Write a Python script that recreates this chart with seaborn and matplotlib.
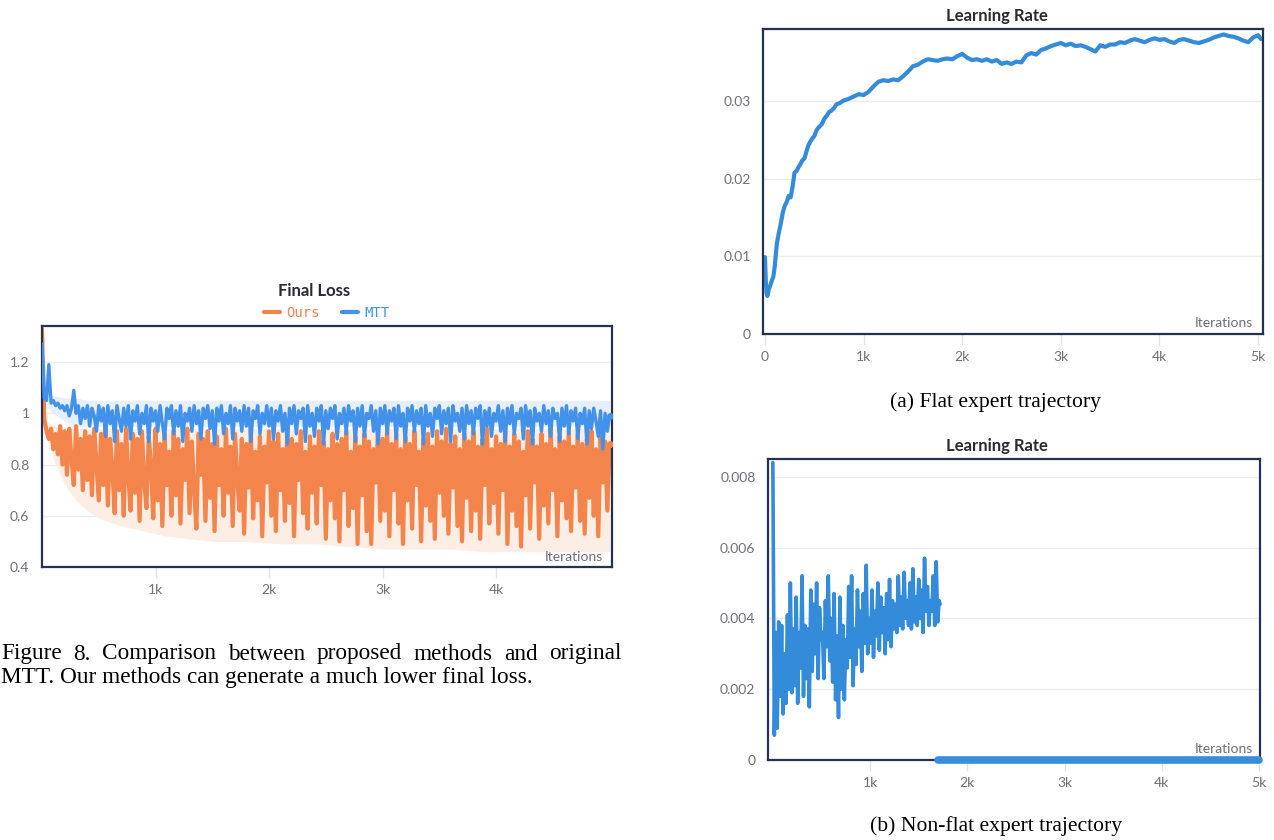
import numpy as np
import pandas as pd
import matplotlib
matplotlib.use("Agg")
import matplotlib.pyplot as plt
import seaborn as sns

# ---- Final Loss (sampled every 20 iterations) ----
loss_iter = np.arange(0, 5001, 20)
ours_loss = [
    1.33, 0.98, 0.93, 0.90, 0.94, 0.86, 0.92, 0.84, 0.95, 0.80,
    0.93, 0.76, 0.94, 0.82, 0.72, 0.95, 0.78, 0.90, 0.70, 0.93,
    0.74, 0.91, 0.68, 0.94, 0.80, 0.66, 0.92, 0.72, 0.95, 0.64,
    0.90, 0.78, 0.61, 0.93, 0.70, 0.88, 0.60, 0.94, 0.76, 0.62,
    0.92, 0.69, 0.90, 0.58, 0.93, 0.74, 0.63, 0.91, 0.80, 0.59,
    0.94, 0.66, 0.88, 0.56, 0.92, 0.72, 0.85, 0.60, 0.93, 0.68,
    0.90, 0.57, 0.86, 0.74, 0.94, 0.61, 0.89, 0.70, 0.55, 0.92,
    0.76, 0.90, 0.58, 0.93, 0.67, 0.88, 0.54, 0.91, 0.72, 0.86,
    0.60, 0.94, 0.69, 0.87, 0.56, 0.92, 0.75, 0.62, 0.90, 0.53,
    0.88, 0.71, 0.93, 0.59, 0.85, 0.66, 0.91, 0.52, 0.87, 0.73,
    0.93, 0.60, 0.89, 0.54, 0.92, 0.70, 0.86, 0.58, 0.94, 0.65,
    0.90, 0.52, 0.88, 0.74, 0.93, 0.61, 0.85, 0.55, 0.91, 0.69,
    0.87, 0.57, 0.93, 0.72, 0.89, 0.51, 0.86, 0.66, 0.92, 0.59,
    0.88, 0.50, 0.90, 0.70, 0.93, 0.56, 0.85, 0.63, 0.91, 0.49,
    0.87, 0.68, 0.92, 0.54, 0.89, 0.49, 0.86, 0.73, 0.93, 0.58,
    0.90, 0.62, 0.94, 0.52, 0.88, 0.70, 0.92, 0.57, 0.86, 0.49,
    0.91, 0.66, 0.88, 0.55, 0.93, 0.72, 0.85, 0.50, 0.90, 0.64,
    0.92, 0.58, 0.87, 0.51, 0.93, 0.69, 0.89, 0.60, 0.94, 0.53,
    0.88, 0.71, 0.91, 0.56, 0.86, 0.50, 0.92, 0.67, 0.89, 0.54,
    0.93, 0.62, 0.87, 0.51, 0.90, 0.72, 0.94, 0.57, 0.86, 0.65,
    0.91, 0.53, 0.88, 0.70, 0.93, 0.49, 0.87, 0.62, 0.92, 0.56,
    0.89, 0.48, 0.85, 0.68, 0.93, 0.55, 0.90, 0.73, 0.87, 0.51,
    0.92, 0.64, 0.88, 0.57, 0.94, 0.70, 0.86, 0.52, 0.91, 0.66,
    0.89, 0.59, 0.93, 0.54, 0.87, 0.71, 0.92, 0.58, 0.88, 0.53,
    0.90, 0.67, 0.93, 0.60, 0.86, 0.52, 0.91, 0.73, 0.89, 0.62,
    0.88,
]
mtt_loss = [
    1.27, 1.06, 1.05, 1.19, 1.04, 1.05, 1.03, 1.04, 1.02, 1.03,
    1.01, 1.03, 0.99, 1.02, 1.09, 1.00, 1.03, 0.96, 1.02, 0.98,
    1.03, 0.95, 1.02, 0.99, 0.93, 1.03, 0.97, 1.02, 0.91, 1.03,
    0.96, 1.01, 0.89, 1.03, 0.98, 0.93, 1.02, 0.95, 1.03, 0.90,
    1.01, 0.97, 1.03, 0.92, 1.00, 0.96, 1.03, 0.89, 1.02, 0.97,
    1.01, 0.93, 1.03, 0.96, 0.90, 1.02, 0.98, 1.03, 0.92, 1.01,
    0.95, 1.03, 0.89, 1.00, 0.97, 1.02, 0.93, 1.03, 0.96, 1.01,
    0.90, 1.02, 0.98, 1.03, 0.94, 1.01, 0.88, 1.02, 0.97, 1.03,
    0.92, 1.00, 0.96, 1.03, 0.90, 1.02, 0.97, 1.01, 0.93, 1.03,
    0.95, 1.02, 0.89, 1.01, 0.98, 1.03, 0.92, 1.00, 0.96, 1.03,
    0.95, 1.02, 0.90, 1.01, 0.97, 1.03, 0.93, 1.00, 0.88, 1.02,
    0.96, 1.03, 0.92, 1.01, 0.98, 1.02, 0.89, 1.03, 0.95, 1.00,
    0.91, 1.02, 0.97, 1.03, 0.88, 1.01, 0.94, 1.02, 0.98, 1.03,
    0.90, 1.00, 0.96, 1.02, 0.92, 1.03, 0.97, 1.01, 0.89, 1.02,
    0.95, 1.03, 0.91, 1.00, 0.98, 1.03, 0.93, 1.01, 0.88, 1.02,
    0.96, 1.03, 0.92, 1.01, 0.97, 1.02, 0.90, 1.03, 0.95, 1.00,
    0.89, 1.02, 0.97, 1.03, 0.93, 1.01, 0.96, 1.02, 0.88, 1.03,
    0.95, 1.00, 0.91, 1.02, 0.98, 1.03, 0.92, 1.01, 0.96, 1.02,
    0.89, 1.03, 0.97, 1.00, 0.93, 1.02, 0.90, 1.03, 0.96, 1.01,
    0.92, 1.02, 0.98, 1.03, 0.88, 1.01, 0.95, 1.02, 0.91, 1.00,
    0.97, 1.03, 0.93, 1.01, 0.89, 1.02, 0.96, 1.03, 0.92, 1.00,
    0.98, 1.02, 0.90, 1.03, 0.95, 1.01, 0.88, 1.02, 0.97, 1.00,
    0.93, 1.03, 0.96, 1.01, 0.91, 1.02, 0.98, 1.00, 0.89, 1.02,
    0.95, 1.03, 0.92, 1.01, 0.97, 1.02, 0.90, 1.00, 0.96, 1.02,
    0.88, 1.01, 0.94, 1.02, 0.97, 0.91, 1.01, 0.86, 1.00, 0.93,
    0.99,
]
# min/max shading behind the lines
band_iter = [0, 50, 100, 200, 300, 400, 500, 700, 900, 1100, 1300, 1500,
             1800, 2100, 2400, 2700, 3000, 3300, 3600, 3900, 4200, 4500, 4800, 5000]
ours_band_lo = [1.30, 0.90, 0.82, 0.72, 0.66, 0.62, 0.59, 0.56, 0.54, 0.52, 0.51, 0.50,
                0.50, 0.49, 0.49, 0.48, 0.47, 0.47, 0.47, 0.46, 0.46, 0.46, 0.46, 0.46]
ours_band_hi = [1.33, 0.97, 0.95, 0.94, 0.94, 0.94, 0.94, 0.94, 0.94, 0.94, 0.94, 0.94,
                0.94, 0.94, 0.94, 0.94, 0.94, 0.94, 0.94, 0.94, 0.94, 0.94, 0.94, 0.94]
mtt_band_lo = [1.20, 1.02, 1.00, 0.97, 0.95, 0.95, 0.95, 0.95, 0.95, 0.95, 0.95, 0.95,
               0.95, 0.95, 0.95, 0.95, 0.95, 0.95, 0.95, 0.95, 0.95, 0.95, 0.95, 0.95]
mtt_band_hi = [1.29, 1.10, 1.07, 1.06, 1.06, 1.05, 1.05, 1.05, 1.05, 1.05, 1.05, 1.05,
               1.05, 1.05, 1.05, 1.05, 1.05, 1.05, 1.05, 1.05, 1.05, 1.05, 1.05, 1.05]

# ---- Learning rate, flat expert trajectory (values x1e-3) ----
lr_flat_iter = [0, 8, 16, 25, 40, 55, 70, 85, 100, 120, 140, 160, 180, 200, 220, 240,
                260, 280, 300, 320, 340, 360, 380, 400, 420, 440, 460, 480, 500, 525,
                550, 575, 600, 625, 650, 675, 700, 725, 750, 775, 800, 850, 900, 950,
                1000, 1050, 1100, 1150, 1200, 1250, 1300, 1350, 1400, 1450, 1500, 1550,
                1600, 1650, 1700, 1750, 1800, 1850, 1900, 1950, 2000, 2050, 2100, 2150,
                2200, 2250, 2300, 2350, 2400, 2450, 2500, 2550, 2600, 2650, 2700, 2750,
                2800, 2850, 2900, 2950, 3000, 3050, 3100, 3150, 3200, 3250, 3300, 3350,
                3400, 3450, 3500, 3550, 3600, 3650, 3700, 3750, 3800, 3850, 3900, 3950,
                4000, 4050, 4100, 4150, 4200, 4250, 4300, 4350, 4400, 4450, 4500, 4550,
                4600, 4650, 4700, 4750, 4800, 4850, 4900, 4950, 5000, 5030]
lr_flat_e3 = [9.9, 7.0, 5.3, 4.9, 5.8, 6.3, 6.9, 7.4, 8.8, 11.6, 13.0, 14.2, 15.6, 16.5, 17.0, 17.8,
              17.6, 19.0, 20.8, 21.0, 21.5, 21.9, 22.4, 22.6, 23.5, 24.3, 24.8, 25.2, 25.5, 26.3,
              26.7, 27.0, 27.7, 28.1, 28.6, 28.8, 29.1, 29.6, 29.7, 29.9, 30.1, 30.3, 30.6, 30.9,
              30.8, 31.2, 31.9, 32.5, 32.7, 32.6, 32.8, 32.7, 33.2, 33.8, 34.5, 34.7,
              35.1, 35.4, 35.3, 35.2, 35.4, 35.5, 35.4, 35.8, 36.1, 35.6, 35.3, 35.4,
              35.2, 35.4, 35.1, 35.3, 34.8, 35.0, 34.8, 35.1, 35.0, 35.9, 36.2, 36.0,
              36.6, 36.8, 37.1, 37.3, 37.5, 37.2, 37.4, 37.1, 37.2, 37.0, 36.7, 36.4,
              37.2, 37.0, 37.3, 37.3, 37.6, 37.5, 37.8, 38.0, 37.8, 37.6, 37.9, 38.1,
              37.9, 38.0, 37.7, 37.5, 37.9, 38.0, 37.8, 37.6, 37.5, 37.7, 37.9, 38.2,
              38.4, 38.6, 38.4, 38.3, 38.1, 37.8, 37.6, 38.2, 38.5, 38.0]

# ---- Learning rate, non-flat expert trajectory (values x1e-3) ----
lr_nonflat_iter = list(range(0, 1711, 15)) + [1720]
lr_nonflat_e3 = [
    8.4, 0.7, 3.6, 0.9, 3.9, 1.8, 3.8, 1.3, 3.0, 1.6, 4.1, 2.0, 5.0, 1.9, 3.7, 2.1,
    4.6, 1.6, 3.6, 2.6, 5.2, 1.8, 3.8, 2.3, 3.7, 1.5, 4.8, 2.5, 4.4, 3.0, 5.0, 2.3,
    4.3, 3.4, 3.6, 2.3, 4.5, 3.2, 5.2, 2.8, 4.0, 2.2, 4.7, 1.7, 3.5, 1.2, 4.6, 2.0,
    3.8, 1.7, 3.4, 2.6, 4.9, 2.9, 5.2, 2.1, 3.7, 2.7, 4.8, 3.2, 4.2, 2.5, 4.7, 3.3,
    5.5, 3.0, 4.0, 3.3, 4.8, 2.9, 4.2, 3.5, 5.0, 3.1, 4.6, 3.6, 4.3, 3.0, 4.7, 3.4,
    5.1, 3.2, 4.5, 3.7, 4.4, 3.6, 5.2, 3.8, 4.6, 3.7, 5.3, 4.0, 4.5, 3.8, 5.0, 3.7,
    5.4, 3.9, 4.6, 3.8, 5.1, 4.0, 4.8, 3.6, 5.7, 4.2, 4.9, 3.8, 4.5, 4.2, 5.2, 3.8,
    5.6, 3.9, 4.5, 4.4,
]
lr_zero_iter = [1700, 5000]
lr_zero_val = [0.0, 0.0]

ORANGE = "#f2844c"
BLUE = "#4392ea"
LR_BLUE = "#348bd9"
FRAME = "#25314f"
TICK_TXT = "#6f6f7a"
UI_FONT = ["Lato", "DejaVu Sans"]

sns.set_theme(style="white")
plt.rcParams["font.family"] = UI_FONT

W, H = 1274, 840
fig = plt.figure(figsize=(W / 100, H / 100), dpi=100)
fig.patch.set_facecolor("white")


def box(l, t, r, b):
    return [l / W, 1 - b / H, (r - l) / W, (b - t) / H]


def style(ax, xticks, xlabels, yticks, ylabels, xlim, ylim, it_xy):
    ax.set_xlim(*xlim)
    ax.set_ylim(*ylim)
    ax.set_xticks(xticks, xlabels)
    ax.set_yticks(yticks, ylabels)
    ax.set_xlabel("")
    ax.set_ylabel("")
    ax.grid(axis="y", color="#ececec", lw=1)
    ax.grid(axis="x", visible=False)
    ax.set_axisbelow(True)
    for s in ax.spines.values():
        s.set_visible(True)
        s.set_color(FRAME)
        s.set_linewidth(1.6)
    ax.tick_params(axis="x", direction="out", length=8, width=1, color="#e2e2e2",
                   labelcolor=TICK_TXT, labelsize=10, pad=4, bottom=True)
    ax.tick_params(axis="y", length=0, labelcolor=TICK_TXT, labelsize=10, pad=9)
    ax.text(it_xy[0], it_xy[1], "Iterations", transform=ax.transAxes, ha="right",
            va="bottom", color=TICK_TXT, fontsize=10)


# ---------------- Final Loss ----------------
ax1 = fig.add_axes(box(42, 326, 612, 567))
ax1.fill_between(band_iter, ours_band_lo, ours_band_hi, color="#fdeee5", lw=0, zorder=1)
ax1.fill_between(band_iter, mtt_band_lo, mtt_band_hi, color="#e6effc", lw=0, zorder=1)
loss_df = pd.DataFrame({"iter": loss_iter, "Ours": ours_loss, "MTT": mtt_loss})
sns.lineplot(data=loss_df, x="iter", y="Ours", ax=ax1, color=ORANGE, lw=3.0, label="Ours", zorder=2)
sns.lineplot(data=loss_df, x="iter", y="MTT", ax=ax1, color=BLUE, lw=2.4, label="MTT", zorder=3)
ax1.plot(loss_df["iter"].iloc[-1], loss_df["Ours"].iloc[-1], "o", color=ORANGE, ms=4, zorder=4)
ax1.plot(loss_df["iter"].iloc[-1], loss_df["MTT"].iloc[-1], "o", color=BLUE, ms=4, zorder=4)
style(ax1, [1000, 2000, 3000, 4000], ["1k", "2k", "3k", "4k"],
      [0.4, 0.6, 0.8, 1.0, 1.2], ["0.4", "0.6", "0.8", "1", "1.2"],
      (0, 5021), (0.4, 1.341), (0.984, 0.015))
leg = ax1.legend(loc="lower center", bbox_to_anchor=(0.5, 1.0), ncol=2, frameon=False,
                 prop={"family": ["DejaVu Sans Mono"], "size": 10}, labelcolor="linecolor",
                 handlelength=1.1, handletextpad=0.5, columnspacing=1.6, borderaxespad=0.05)
for h in leg.get_lines():
    h.set_linewidth(3)
fig.text(314 / W, 1 - 291 / H, "Final Loss", ha="center", va="center",
         fontsize=12, fontweight="bold", color="#2a2a33")

# ---------------- LR flat ----------------
ax2 = fig.add_axes(box(763, 29, 1263, 334))
flat_df = pd.DataFrame({"iter": lr_flat_iter, "lr": np.array(lr_flat_e3) * 1e-3})
sns.lineplot(data=flat_df, x="iter", y="lr", ax=ax2, color=LR_BLUE, lw=3.0)
style(ax2, [0, 1000, 2000, 3000, 4000, 5000], ["0", "1k", "2k", "3k", "4k", "5k"],
      [0, 0.01, 0.02, 0.03], ["0", "0.01", "0.02", "0.03"],
      (-20, 5050), (0, 0.0393), (0.98, 0.015))
fig.text(997 / W, 1 - 16 / H, "Learning Rate", ha="center", va="center",
         fontsize=12, fontweight="bold", color="#2a2a33")

# ---------------- LR non-flat ----------------
ax3 = fig.add_axes(box(768, 459, 1260, 760))
nf_df = pd.DataFrame({"iter": lr_nonflat_iter, "lr": np.array(lr_nonflat_e3) * 1e-3})
z_df = pd.DataFrame({"iter": lr_zero_iter, "lr": lr_zero_val})
sns.lineplot(data=nf_df, x="iter", y="lr", ax=ax3, color=LR_BLUE, lw=2.6)
sns.lineplot(data=z_df, x="iter", y="lr", ax=ax3, color="#3a8ddb", lw=5.5,
             solid_capstyle="round", clip_on=False, zorder=5)
style(ax3, [1000, 2000, 3000, 4000, 5000], ["1k", "2k", "3k", "4k", "5k"],
      [0, 0.002, 0.004, 0.006, 0.008], ["0", "0.002", "0.004", "0.006", "0.008"],
      (-50, 5010), (0, 0.0085), (0.985, 0.015))
fig.text(997 / W, 1 - 446 / H, "Learning Rate", ha="center", va="center",
         fontsize=12, fontweight="bold", color="#2a2a33")

# ---------------- captions ----------------
SERIF = ["Liberation Serif", "DejaVu Serif"]
renderer = fig.canvas.get_renderer()


def fit_text(txt, x0, x1, yc, ha="left"):
    t = fig.text(x0 / W, 1 - yc / H, txt, ha=ha, va="center", fontsize=14, family=SERIF, color="black")
    w = t.get_window_extent(renderer).width
    t.set_fontsize(14 * (x1 - x0) / w)
    return t


line2 = fit_text("MTT. Our methods can generate a much lower final loss.", 1, 535, 678)
cap_size = line2.get_fontsize()

# justified first line of the caption
words = ["Figure", "8.", "Comparison", "between", "proposed", "methods", "and", "original"]
wt = [fig.text(0, 1 - 654 / H, w, ha="left", va="center", fontsize=cap_size, family=SERIF, color="black")
      for w in words]
widths = [t.get_window_extent(renderer).width for t in wt]
x_left, x_right = 1, 622
gap = (x_right - x_left - sum(widths)) / (len(words) - 1)
xpos = x_left
for t, w in zip(wt, widths):
    t.set_x(xpos / W)
    xpos += w + gap

for txt, yc in [("(a) Flat expert trajectory", 402), ("(b) Non-flat expert trajectory", 826)]:
    fig.text(996 / W, 1 - yc / H, txt, ha="center", va="center", fontsize=cap_size * 0.93,
             family=SERIF, color="black")

fig.savefig("out.png", dpi=100)
